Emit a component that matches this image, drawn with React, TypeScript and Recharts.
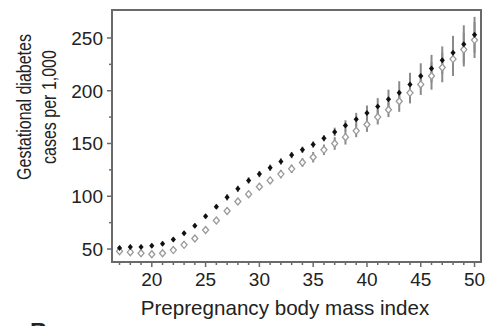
import {
  ErrorBar,
  Label,
  ReferenceArea,
  Scatter,
  ScatterChart,
  XAxis,
  YAxis,
} from "recharts";

const bmi = [
  17, 18, 19, 20, 21, 22, 23, 24, 25, 26, 27, 28, 29, 30, 31, 32, 33,
  34, 35, 36, 37, 38, 39, 40, 41, 42, 43, 44, 45, 46, 47, 48, 49, 50,
];
const darkCases = [
  51, 52, 52, 53, 55, 59, 65, 72, 81, 90, 99, 107, 115, 121, 127, 133, 139,
  144, 149, 155, 161, 167, 173, 179, 185, 192, 198, 206, 214, 221, 229, 236, 244, 253,
];
const darkErr = [
  2, 2, 2, 2, 2, 2, 2, 2, 2, 2, 3, 3, 3, 3, 3, 3, 3,
  3, 3, 3, 4, 5, 6, 7, 8, 9, 11, 11, 12, 13, 13, 16, 18, 17,
];
const lightCases = [
  48, 47, 46, 45, 46, 49, 54, 60, 68, 77, 86, 95, 102, 109, 115, 121, 126,
  132, 137, 144, 150, 156, 162, 168, 175, 182, 190, 198, 206, 214, 222, 230, 239, 248,
];
const lightErr = [
  2, 2, 2, 2, 2, 2, 2, 2, 2, 2, 3, 3, 3, 3, 3, 4, 4,
  4, 5, 5, 6, 7, 6, 7, 7, 7, 10, 10, 10, 13, 14, 16, 16, 17,
];
const xTicks = bmi;
const yTicks = [50, 75, 100, 125, 150, 175, 200, 225, 250];
const xDomain = [16.3, 50.6];
const yDomain = [37.7, 276.5];

const darkPts = bmi.map((b, i) => ({ x: b, y: darkCases[i], e: darkErr[i] }));
const lightPts = bmi.map((b, i) => ({ x: b, y: lightCases[i], e: lightErr[i] }));

const FONT = "'Liberation Sans', Arial, sans-serif";
const AXIS = "#6a6a6a";

const XTick = ({ x, y, payload }: any) => {
  const major = payload.value % 5 === 0;
  return (
    <g>
      <line x1={x} x2={x} y1={y} y2={y + (major ? 5 : 3)} stroke={AXIS} strokeWidth={1.5} />
      {major && (
        <text x={x} y={y + 24} textAnchor="middle" fontSize={19} fill="#222" fontFamily={FONT}>
          {payload.value}
        </text>
      )}
    </g>
  );
};

const YTick = ({ x, y, payload }: any) => {
  const major = payload.value % 50 === 0;
  return (
    <g>
      <line x1={x - (major ? 5 : 3)} x2={x} y1={y} y2={y} stroke={AXIS} strokeWidth={1.5} />
      {major && (
        <text x={x - 9} y={y} dy="0.36em" textAnchor="end" fontSize={19} fill="#222" fontFamily={FONT}>
          {payload.value}
        </text>
      )}
    </g>
  );
};

const DarkDot = ({ cx, cy }: any) => (
  <path d={`M${cx},${cy - 3}L${cx + 2.6},${cy}L${cx},${cy + 3}L${cx - 2.6},${cy}Z`} fill="#111" />
);

const LightDot = ({ cx, cy }: any) => (
  <path
    d={`M${cx},${cy - 3.5}L${cx + 3},${cy}L${cx},${cy + 3.5}L${cx - 3},${cy}Z`}
    fill="#fff"
    stroke="#9a9a9a"
    strokeWidth={1.3}
  />
);

export default function App() {
  return (
    <div style={{ position: "absolute", left: 0, top: 0, fontFamily: FONT }}>
      <ScatterChart width={492} height={326} margin={{ top: 10, right: 11, left: 0, bottom: 0 }}>
        <XAxis
          dataKey="x"
          type="number"
          domain={xDomain}
          ticks={xTicks}
          interval={0}
          allowDataOverflow
          height={64}
          tickSize={0}
          tickMargin={0}
          tick={<XTick />}
          axisLine={{ stroke: AXIS, strokeWidth: 2 }}
        >
          <Label
            content={({ viewBox }: any) => (
              <text
                x={viewBox.x + 173}
                y={viewBox.y + 53}
                textAnchor="middle"
                fontSize={20.6}
                fill="#222"
                fontFamily={FONT}
              >
                Prepregnancy body mass index
              </text>
            )}
          />
        </XAxis>
        <YAxis
          dataKey="y"
          type="number"
          domain={yDomain}
          ticks={yTicks}
          interval={0}
          allowDataOverflow
          width={112}
          tickSize={0}
          tickMargin={0}
          tick={<YTick />}
          axisLine={{ stroke: AXIS, strokeWidth: 2 }}
        >
          <Label
            content={() => (
              <text transform="translate(0,107) scale(1,0.8) rotate(-90)" textAnchor="middle" fontSize={20} fill="#222" fontFamily={FONT}>
                <tspan x={0} y={31}>Gestational diabetes</tspan>
                <tspan x={0} y={56}>cases per 1,000</tspan>
              </text>
            )}
          />
        </YAxis>
        <ReferenceArea
          x1={xDomain[0]}
          x2={xDomain[1]}
          y1={yDomain[0]}
          y2={yDomain[1]}
          fill="none"
          stroke={AXIS}
          strokeWidth={2}
          ifOverflow="visible"
        />
        <Scatter data={lightPts} shape={<LightDot />} isAnimationActive={false}>
          <ErrorBar dataKey="e" direction="y" width={0} stroke="#8a8a8a" strokeWidth={2} />
        </Scatter>
        <Scatter data={darkPts} shape={<DarkDot />} isAnimationActive={false}>
          <ErrorBar dataKey="e" direction="y" width={0} stroke="#8a8a8a" strokeWidth={2} />
        </Scatter>
        <text x={30} y={340} fontSize={24} fontWeight="bold" fill="#222" fontFamily={FONT}>
          B
        </text>
      </ScatterChart>
    </div>
  );
}
